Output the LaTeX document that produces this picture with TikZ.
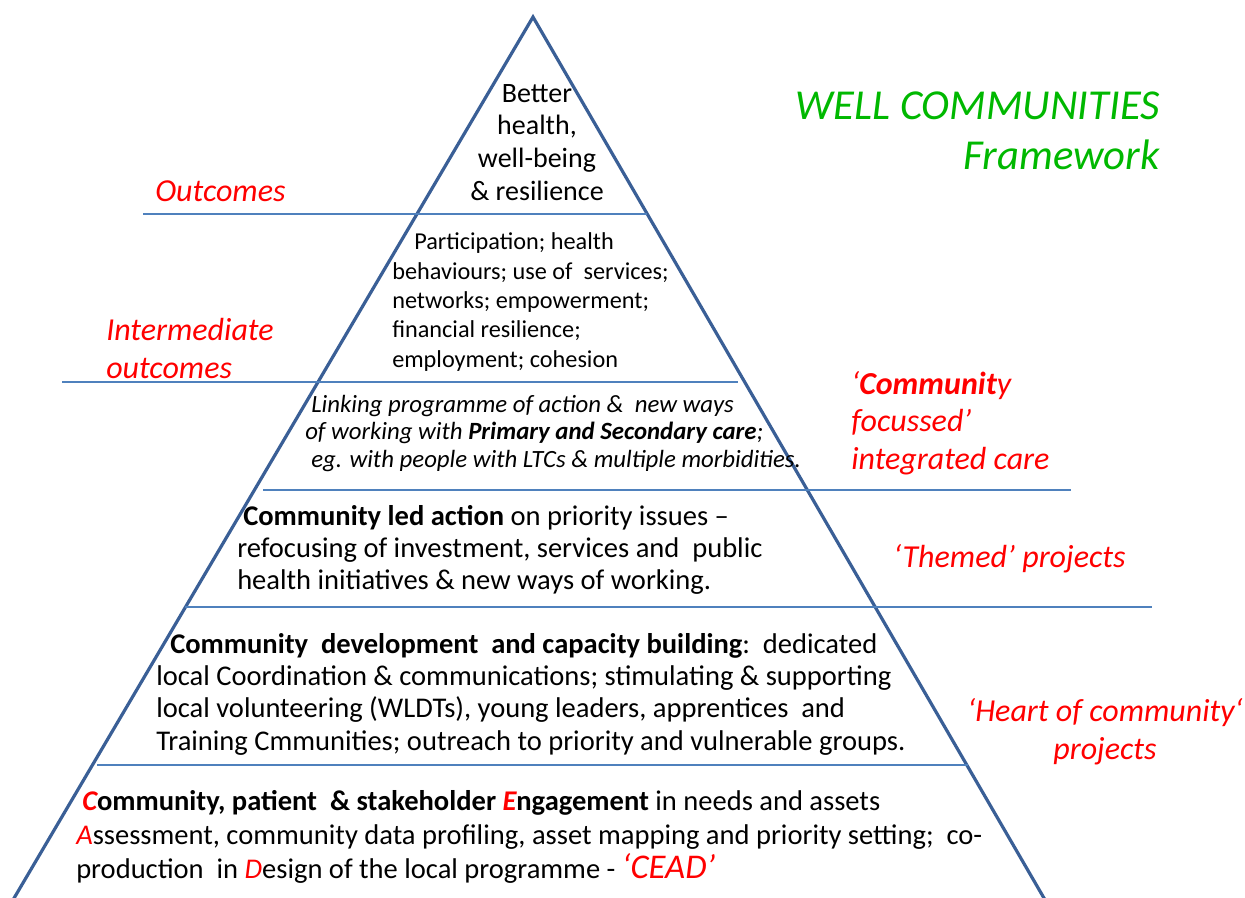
\documentclass[tikz,border=0pt]{standalone}
\usepackage{fontspec}
\setmainfont{Carlito}
\definecolor{edgeblue}{RGB}{58,95,150}
\definecolor{tierblue}{RGB}{79,129,189}
\definecolor{lblred}{RGB}{255,0,0}
\definecolor{titlegreen}{RGB}{0,184,0}

\begin{document}
\begin{tikzpicture}[x=0.75pt,y=-0.75pt,
  edge/.style={draw=edgeblue, line width=2.4pt},
  tier/.style={draw=tierblue, line width=2.1pt},
  % multi-line nodes are anchored at the baseline of their last line
  body/.style={inner sep=0pt, anchor=base west, align=left, text=black},
  lbl/.style={inner sep=0pt, anchor=base west, align=left, text=lblred,
              font=\fontsize{24}{28}\selectfont\itshape},
]
\useasboundingbox (0,0) rectangle (1245,897);

% pyramid outline
\coordinate (apex) at (533,17);
\coordinate (baseL) at (10,905);
\coordinate (baseR) at (1048,905);
\draw[edge] (baseL) -- (apex) -- (baseR);

% tier separators
\coordinate (t1a) at (143,214); \coordinate (t1b) at (647,214);
\coordinate (t2a) at (62,382);  \coordinate (t2b) at (738,382);
\coordinate (t3a) at (263,490); \coordinate (t3b) at (1071,490);
\coordinate (t4a) at (185,607); \coordinate (t4b) at (1152,607);
\coordinate (t5a) at (97,765);  \coordinate (t5b) at (968,765);
\draw[tier] (t1a) -- (t1b);
\draw[tier] (t2a) -- (t2b);
\draw[tier] (t3a) -- (t3b);
\draw[tier] (t4a) -- (t4b);
\draw[tier] (t5a) -- (t5b);

% tier contents
\node[body, anchor=base, align=center, font=\fontsize{21}{24.5}\selectfont]
  (top) at (537,200) {Better\\health,\\well-being\\\& resilience};

\node[body, font=\fontsize{18.2}{22}\selectfont] (inter) at (392,367)
  {\hspace*{16.5pt}Participation; health\\
   behaviours; use of\ \ services;\\
   networks; empowerment;\\
   financial resilience;\\
   employment; cohesion};

\node[body, font=\fontsize{18.6}{20.3}\selectfont\itshape] (link) at (305,467)
  {\hspace*{4.5pt}Linking programme of action \&\ \ new ways\\
   of working with \textbf{Primary and Secondary care};\\
   \hspace*{4.5pt}eg. with people with LTCs \& multiple morbidities.};

\node[body, font=\fontsize{21.4}{24}\selectfont] (led) at (237,589)
  {\hspace*{4.5pt}\textbf{Community led action} on priority issues –\\
   refocusing of investment, services and\ \ public\\
   health initiatives \& new ways of working.};

\node[body, font=\fontsize{21.4}{24.2}\selectfont] (dev) at (156,750)
  {\hspace*{10.5pt}\textbf{Community\ \ development\ \ and capacity building}:\ \ dedicated\\
   local Coordination \& communications; stimulating \& supporting\\
   local volunteering (WLDTs), young leaders, apprentices\ \ and\\
   Training Cmmunities; outreach to priority and vulnerable groups.};

\node[body, font=\fontsize{21.4}{25.5}\selectfont] (cead) at (76,878)
  {\hspace*{4.5pt}\textbf{\textcolor{lblred}{\itshape C}ommunity, patient\ \ \& stakeholder \textcolor{lblred}{\itshape E}ngagement} in needs and assets\\
   \textcolor{lblred}{\itshape A}ssessment, community data profiling, asset mapping and priority setting;\ \ co-\\
   production\ \ in \textcolor{lblred}{\itshape D}esign of the local programme - \textcolor{lblred}{\fontsize{26}{25.5}\selectfont\itshape ‘CEAD’}};

% side labels
\node[lbl] (outc) at (155,201) {Outcomes};
\node[lbl] (interlbl) at (106,378) {Intermediate\\outcomes};
\node[lbl] (cfic) at (851,469) {‘\textbf{Communit}y\\focussed’\\integrated care};
\node[lbl] (themed) at (893,567) {‘Themed’ projects};
\node[lbl, anchor=base, align=center] (heart) at (1105,759) {‘Heart of community‘\\projects};

% title
\node[inner sep=0pt, anchor=base east, align=right, text=titlegreen,
      font=\fontsize{32}{37.5}\selectfont\itshape] (title) at (1160,169)
  {WELL COMMUNITIES\\Framework};
\end{tikzpicture}
\end{document}
